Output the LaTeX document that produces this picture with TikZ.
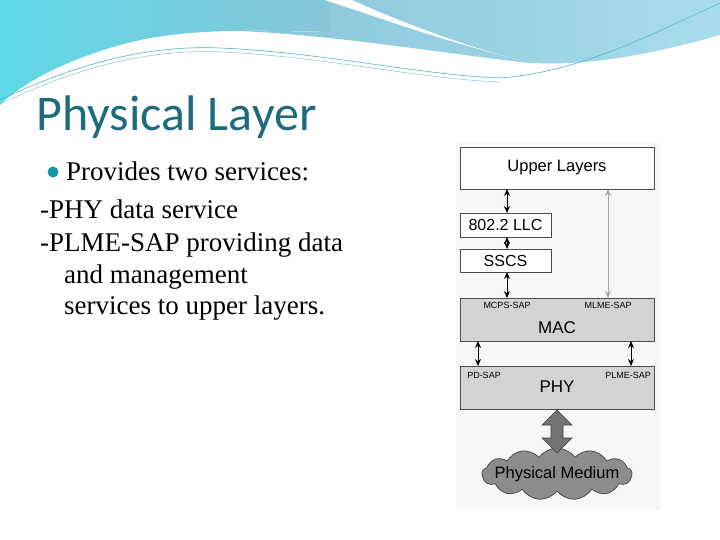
\documentclass[tikz,border=0pt]{standalone}
\usepackage{fontspec}
\setmainfont{Liberation Serif}
\newfontfamily\titlefont{Carlito}
\newfontfamily\diafont{Liberation Sans}
\usetikzlibrary{shapes.symbols,arrows.meta}
\definecolor{teal1}{HTML}{1F6B7E}
\definecolor{wave1}{HTML}{86C4D8}
\definecolor{wave2}{HTML}{5FD8E6}
\definecolor{wave3}{HTML}{A8DCEB}
\definecolor{boxgray}{HTML}{D3D3D3}
\tikzset{
  layerbox/.style={draw=black!70, line width=0.8pt, fill=white, inner sep=0pt},
  graybox/.style={draw=black!70, line width=0.8pt, fill=boxgray, inner sep=0pt},
  darr/.style={{Stealth[length=7pt,width=6pt]}-{Stealth[length=7pt,width=6pt]}, line width=0.9pt},
  sap/.style={font=\diafont\fontsize{9}{10}\selectfont, inner sep=0pt},
  bodytxt/.style={anchor=west, font=\fontsize{27}{30}\selectfont, inner sep=0pt}
}
\begin{document}
\begin{tikzpicture}[x=1pt,y=-1pt]
\useasboundingbox (0,0) rectangle (720,540);
\fill[white] (0,0) rectangle (720,540);
% header waves
\shade[left color=wave2, right color=wave1] (0,0) -- (330,0) -- (330,32) .. controls (250,30) and (180,28) .. (120,45) .. controls (60,62) and (20,85) .. (0,105) -- cycle;
\shade[left color=wave1, right color=wave3] (328,0) -- (720,0) -- (720,35) .. controls (650,55) and (580,68) .. (520,62) .. controls (420,50) and (300,30) .. (200,30) .. controls (280,30) and (300,32) .. (330,32) -- cycle;
\fill[white] (325,0) .. controls (380,18) and (440,40) .. (520,60) .. controls (470,48) and (400,22) .. (352,0) -- cycle;
\draw[wave2!70!teal1, line width=0.6pt] (0,100) .. controls (80,62) and (150,45) .. (220,48) .. controls (320,52) and (420,75) .. (500,78) .. controls (580,72) and (650,35) .. (720,3);
\draw[wave1, line width=0.5pt] (0,104) .. controls (80,66) and (150,49) .. (220,52) .. controls (320,56) and (420,79) .. (500,82);
% title
\node[anchor=west, text=teal1, font=\titlefont\fontsize{50}{54}\selectfont, inner sep=0pt] (title) at (36,117) {Physical Layer};
% bullet
\fill[teal1!70!cyan] (53,172) circle (5.5);
\node[bodytxt] (l1) at (66,171) {Provides two services:};
\node[bodytxt] (l2) at (40,209) {-PHY data service};
\node[bodytxt] (l3) at (40,245) {-PLME-SAP providing data};
\node[bodytxt] (l4) at (64,277) {and management};
\node[bodytxt] (l5) at (64,308) {services to upper layers.};
% diagram
\fill[black!3] (456,143) rectangle (660,510);
\node[layerbox, minimum width=194, minimum height=42, font=\diafont\fontsize{16.5}{18}\selectfont] (up) at (557,168) {Upper Layers};
\node[layerbox, minimum width=91, minimum height=24, font=\diafont\fontsize{16}{17}\selectfont] (llc) at (505.5,225) {802.2 LLC};
\node[layerbox, minimum width=91, minimum height=23, font=\diafont\fontsize{16}{17}\selectfont] (sscs) at (505.5,260.5) {SSCS};
\node[graybox, minimum width=194, minimum height=43] (mac) at (557,319.5) {};
\node[font=\diafont\fontsize{17}{18}\selectfont] (mact) at (557,328) {MAC};
\node[sap] (mcps) at (507,305) {MCPS-SAP};
\node[sap] (mlme) at (608,305) {MLME-SAP};
\node[graybox, minimum width=194, minimum height=43] (phy) at (557,387.5) {};
\node[font=\diafont\fontsize{17}{18}\selectfont] (phyt) at (557,387) {PHY};
\node[sap] (pd) at (484,375) {PD-SAP};
\node[sap] (plme) at (628,375) {PLME-SAP};
\draw[darr] (507,189) -- (507,213);
\draw[darr] (507,237) -- (507,249);
\draw[darr] (507,272) -- (507,298);
\draw[darr, draw=black!35, fill=black!35] (608,189) -- (608,298);
\draw[darr] (478,341) -- (478,366);
\draw[darr] (631,341) -- (631,366);
% cloud
\node[cloud, cloud puffs=13, cloud puff arc=110, aspect=3.2, draw=black!70, fill=black!45, line width=0.8pt, minimum width=150, minimum height=52, inner sep=0pt] (med) at (557,474) {};
\node[font=\diafont\fontsize{16.5}{18}\selectfont] (medt) at (557,474) {Physical Medium};
% big arrow
\fill[black!55, draw=black!75, line width=0.6pt] (557,410) -- (572,425) -- (563,425) -- (563,438) -- (572,438) -- (557,453) -- (542,438) -- (551,438) -- (551,425) -- (542,425) -- cycle;
\end{tikzpicture}
\end{document}
